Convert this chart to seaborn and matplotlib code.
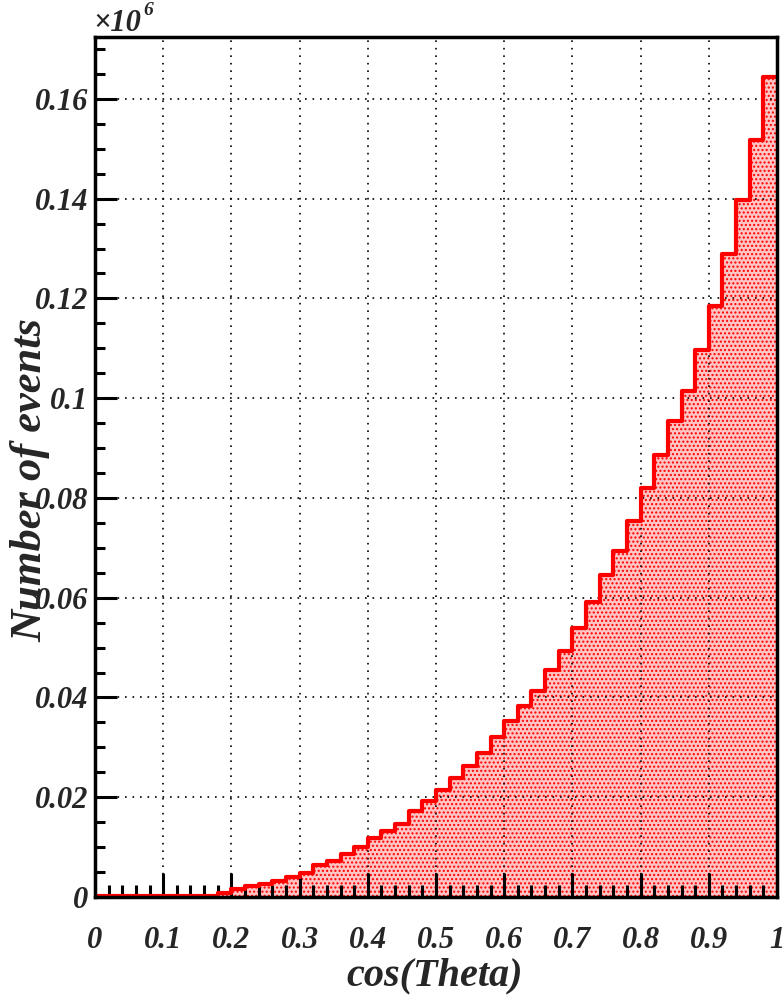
import numpy as np
import pandas as pd
import matplotlib
matplotlib.use("Agg")
import matplotlib.pyplot as plt
import seaborn as sns

# ---- data (values in units of 10^6 events) ----
bin_edges = [round(0.02 * i, 2) for i in range(51)]
counts = [
    0.0003, 0.0003, 0.0003, 0.0003, 0.0003, 0.0003, 0.0003, 0.0003, 0.0003, 0.0008,
    0.0016, 0.0022, 0.0027, 0.0033, 0.0041, 0.0049, 0.0064, 0.0072, 0.0086, 0.0101,
    0.0119, 0.0133, 0.0146, 0.0172, 0.0192, 0.0214, 0.0239, 0.0263, 0.0288, 0.0320,
    0.0352, 0.0383, 0.0413, 0.0456, 0.0494, 0.0540, 0.0591, 0.0645, 0.0694, 0.0754,
    0.0819, 0.0886, 0.0955, 0.1014, 0.1097, 0.1185, 0.1289, 0.1398, 0.1517, 0.1644,
]
x_ticks = [0, 0.1, 0.2, 0.3, 0.4, 0.5, 0.6, 0.7, 0.8, 0.9, 1]
x_tick_labels = ["0", "0.1", "0.2", "0.3", "0.4", "0.5", "0.6", "0.7", "0.8", "0.9", "1"]
y_ticks = [0, 0.02, 0.04, 0.06, 0.08, 0.10, 0.12, 0.14, 0.16]
y_tick_labels = ["0", "0.02", "0.04", "0.06", "0.08", "0.1", "0.12", "0.14", "0.16"]

centers = [(bin_edges[i] + bin_edges[i + 1]) / 2 for i in range(len(counts))]
df = pd.DataFrame({"cos": centers, "n": counts})

sns.set_style("white")
plt.rcParams["font.family"] = ["Liberation Serif", "DejaVu Serif"]
plt.rcParams["hatch.color"] = "red"
plt.rcParams["hatch.linewidth"] = 1.0

fig = plt.figure(figsize=(7.84, 10.05), dpi=100)
ax = fig.add_axes([95 / 784, 1 - 897 / 1005, (777 - 95) / 784, (897 - 37) / 1005])

# hatched fill
sns.histplot(data=df, x="cos", weights="n", bins=bin_edges, element="bars",
             fill=True, stat="count", ax=ax, facecolor="#ffc4c4", edgecolor="red",
             linewidth=0, hatch="....", alpha=1.0, zorder=1)
# outline
sns.histplot(data=df, x="cos", weights="n", bins=bin_edges, element="step",
             fill=False, stat="count", ax=ax, color="red", linewidth=3, zorder=3)

ax.set_xlim(0, 1)
ax.set_ylim(0, 0.1724)

ax.set_xticks(x_ticks)
ax.set_xticklabels(x_tick_labels)
ax.set_yticks(y_ticks)
ax.set_yticklabels(y_tick_labels)
ax.set_xticks(np.arange(0, 1.0001, 0.02), minor=True)
ax.set_yticks(np.arange(0, 0.1724, 0.005), minor=True)

tick_font = dict(family="Liberation Serif", weight="bold", style="italic", size=22)
for lab in ax.get_xticklabels() + ax.get_yticklabels():
    lab.set_fontproperties(matplotlib.font_manager.FontProperties(**tick_font))

ax.tick_params(axis="x", which="major", direction="in", length=17, width=2.2, pad=21,
               bottom=True, top=False, color="black")
ax.tick_params(axis="x", which="minor", direction="in", length=8.5, width=2.2,
               bottom=True, top=False, color="black")
ax.tick_params(axis="y", which="major", direction="in", length=15.5, width=2.2, pad=5,
               left=True, right=False, color="black")
ax.tick_params(axis="y", which="minor", direction="in", length=7.5, width=2.2,
               left=True, right=False, color="black")

ax.grid(True, which="major", linestyle=(0, (1, 3.5)), color="black", linewidth=1.2, zorder=2)
ax.set_axisbelow(False)
for g in ax.get_xgridlines() + ax.get_ygridlines():
    g.set_zorder(2)

for s in ax.spines.values():
    s.set_visible(True)
    s.set_color("black")
    s.set_linewidth(2.5)
    s.set_zorder(4)

label_font = dict(family="Liberation Serif", weight="bold", style="italic")
ax.set_xlabel("cos(Theta)", fontsize=29, va="center", **label_font)
ax.set_ylabel("Number of events", fontsize=32, va="center", **label_font)
ax.xaxis.set_label_coords(0.4985, -0.0915)
ax.yaxis.set_label_coords(-0.095, 0.485)

fig.text(93 / 784, 1 - 31 / 1005, "×10", fontsize=22, ha="left", va="baseline", **label_font)
fig.text(143 / 784, 1 - 15 / 1005, "6", fontsize=14, ha="left", va="baseline", **label_font)

fig.savefig("out.png", dpi=100)
